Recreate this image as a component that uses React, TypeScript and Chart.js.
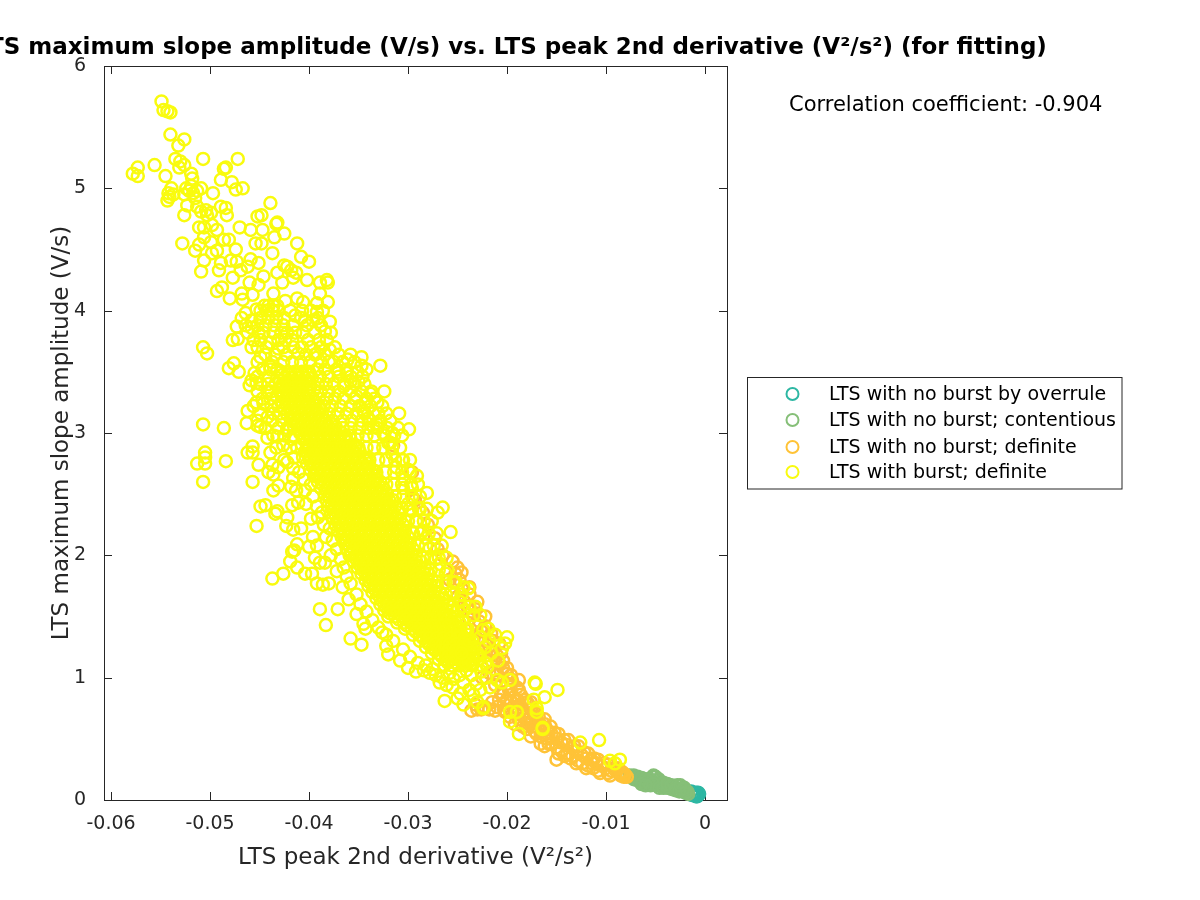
import React, { useEffect, useRef } from "react";
import { Chart, registerables } from "chart.js";

Chart.register(...registerables);

const titleText = "LTS maximum slope amplitude (V/s) vs. LTS peak 2nd derivative (V²/s²) (for fitting)";
const xAxisLabel = "LTS peak 2nd derivative (V²/s²)";
const yAxisLabel = "LTS maximum slope amplitude (V/s)";
const correlationText = "Correlation coefficient: -0.904";
const xTicks = [-0.06, -0.05, -0.04, -0.03, -0.02, -0.01, 0];
const yTicks = [0, 1, 2, 3, 4, 5, 6];
const seriesNames = [
  "LTS with no burst by overrule",
  "LTS with no burst; contentious",
  "LTS with no burst; definite",
  "LTS with burst; definite",
];
const seriesColors = ["#2DB7A3", "#86BF78", "#FFC337", "#F9FB0E"];

type P = number[];

const overrulePts: P[] = [[-.0014,.07],[-.0012,.06],[-.0011,.05],[-.001,.04],[-.0009,.06],[-.0008,.05],[-.0008,.03],[-.0007,.04],[-.0007,.06],[-.0006,.05],[-.0013,.04],[-.0009,.03]];

const contentiousPts: P[] = [[-.0076,.2],[-.0074,.19],[-.0072,.17],[-.007,.18],[-.0068,.16],[-.0066,.17],[-.0064,.15],[-.0062,.16],[-.006,.14],[-.0058,.15],[-.0056,.13],[-.0054,.16],[-.0053,.19],[-.0052,.2],[-.005,.19],[-.0051,.14],[-.0049,.16],[-.0048,.12],[-.0047,.17],[-.0045,.13],[-.0043,.11],[-.0042,.14],[-.004,.12],[-.0038,.1],[-.0036,.12],[-.0034,.09],[-.0032,.11],[-.003,.1],[-.0028,.12],[-.0027,.08],[-.0026,.11],[-.0024,.09],[-.0022,.07],[-.0021,.1],[-.002,.08],[-.0019,.06],[-.0018,.07],[-.0017,.05],[-.0072,.2],[-.0068,.19],[-.0064,.18],[-.006,.17],[-.0056,.17],[-.0055,.12],[-.0052,.13],[-.0046,.1],[-.0042,.1],[-.0038,.13],[-.0034,.12],[-.003,.08],[-.0026,.07],[-.0022,.09],[-.002,.06],[-.0025,.12],[-.0064,.13],[-.006,.12]];

const noBurstPts: P[] = [[-.0315,2.9],[-.0296,2.68],[-.0293,2.45],[-.0295,2.47],[-.0273,2.14],[-.028,2.25],[-.0285,2.35],[-.027,2.05],[-.0265,2],[-.0255,1.95],[-.025,1.9],[-.0252,1.85],[-.0248,1.8],[-.0258,1.8],[-.0245,1.72],[-.025,1.66],[-.025,1.66],[-.0243,1.62],[-.024,1.58],[-.0236,1.54],[-.0238,1.48],[-.0232,1.44],[-.0228,1.46],[-.0226,1.38],[-.023,1.32],[-.0222,1.3],[-.0218,1.26],[-.0224,1.22],[-.0214,1.22],[-.021,1.18],[-.0216,1.14],[-.0208,1.12],[-.0204,1.08],[-.0212,1.06],[-.0218,1.04],[-.0225,1],[-.02,1.03],[-.0195,.98],[-.0205,.96],[-.0212,.94],[-.019,.92],[-.0198,.9],[-.0206,.88],[-.0186,.86],[-.0193,.84],[-.02,.82],[-.0208,.82],[-.0215,.8],[-.0222,.76],[-.023,.74],[-.0236,.73],[-.018,.8],[-.0187,.78],[-.0194,.76],[-.0203,.74],[-.0212,.73],[-.0176,.74],[-.0183,.72],[-.019,.7],[-.0197,.68],[-.0172,.68],[-.018,.66],[-.0186,.63],[-.0168,.62],[-.0174,.6],[-.018,.58],[-.0165,.56],[-.017,.54],[-.0176,.52],[-.016,.58],[-.0155,.54],[-.016,.5],[-.0166,.46],[-.015,.5],[-.0155,.46],[-.0145,.47],[-.015,.43],[-.014,.45],[-.0145,.4],[-.0135,.43],[-.0139,.38],[-.015,.33],[-.013,.4],[-.0134,.36],[-.0128,.32],[-.0125,.37],[-.012,.34],[-.0124,.3],[-.0115,.33],[-.0118,.28],[-.011,.3],[-.0113,.26],[-.0105,.28],[-.0108,.24],[-.01,.26],[-.0095,.24],[-.0098,.22],[-.009,.24],[-.0087,.22],[-.0085,.2],[-.0083,.22],[-.0083,.2],[-.0081,.21],[-.0079,.19],[-.0082,.19],[-.0084,.23],[-.0092,.26],[-.0102,.3],[-.0112,.34],[-.0122,.39],[-.0132,.44],[-.0142,.49],[-.0152,.55],[-.0162,.62],[-.017,.7],[-.0178,.78],[-.0188,.9],[-.0196,1.02],[-.0204,1.14],[-.0214,1.3],[-.0222,1.42],[-.0232,1.56],[-.0238,1.68],[-.0246,1.86],[-.0232,.78],[-.0226,.74],[-.0218,.74],[-.021,.76],[-.0202,.72],[-.0196,.72],[-.0188,.66],[-.0192,.62],[-.0184,.6],[-.0178,.62],[-.0172,.56],[-.0166,.52],[-.0158,.46],[-.0162,.44],[-.0148,.38],[-.0142,.36],[-.0136,.34],[-.013,.3],[-.012,.26],[-.0114,.3],[-.0106,.22],[-.0096,.2],[-.0196,.9],[-.019,.82],[-.0182,.82],[-.0176,.8],[-.0188,.98],[-.02,1.08],[-.0206,1.2],[-.0208,1.28],[-.0216,1.36],[-.0222,1.5],[-.023,1.62],[-.0238,1.74],[-.0172,.72],[-.0168,.68],[-.0162,.66],[-.0156,.6],[-.0148,.54],[-.0138,.49],[-.0128,.44],[-.0118,.38],[-.0108,.33],[-.0098,.29],[-.0088,.26],[-.021,1.02],[-.02,.95],[-.0204,.86],[-.0196,.8],[-.019,.75],[-.0184,.7],[-.0176,.68],[-.017,.64],[-.0164,.6],[-.0158,.52]];

const burstTop: P[] = [[-.0549,5.71],[-.0547,5.64],[-.0543,5.63],[-.054,5.62],[-.054,5.44],[-.0526,5.4],[-.0532,5.35],[-.0507,5.24],[-.0472,5.24],[-.0535,5.24],[-.053,5.22],[-.0526,5.19],[-.0531,5.17],[-.0556,5.19],[-.0573,5.17],[-.0578,5.12],[-.0573,5.1],[-.0545,5.1],[-.0484,5.17],[-.0486,5.16],[-.0489,5.07],[-.0478,5.05],[-.0474,4.99],[-.0467,5],[-.0497,4.96],[-.0519,5.12],[-.0518,5.08],[-.0524,5],[-.0521,4.98],[-.0519,5.02],[-.0517,4.96],[-.0526,4.95],[-.0515,4.92],[-.0513,4.98],[-.0509,5],[-.0539,5],[-.0541,4.93],[-.0543,4.9],[-.0537,4.95],[-.0542,4.96],[-.0526,4.78],[-.0523,4.86],[-.0513,4.85],[-.0509,4.81],[-.0504,4.82],[-.0503,4.78],[-.0499,4.8],[-.0489,4.85],[-.0484,4.84],[-.0483,4.78],[-.0439,4.88],[-.0452,4.77],[-.0448,4.78],[-.0432,4.72],[-.0433,4.71],[-.047,4.68],[-.0459,4.66],[-.0447,4.66],[-.0528,4.55],[-.0511,4.54],[-.0515,4.49],[-.0506,4.68],[-.0511,4.68],[-.0506,4.6],[-.0493,4.66],[-.0498,4.7],[-.0412,4.55],[-.0425,4.63],[-.0435,4.6],[-.0454,4.55],[-.0448,4.55],[-.0437,4.47],[-.0408,4.44],[-.04,4.4],[-.0481,4.58],[-.0486,4.58],[-.0474,4.5],[-.0509,4.32],[-.0498,4.47],[-.0493,4.49],[-.0506,4.41],[-.0491,4.33],[-.0489,4.39],[-.0473,4.4],[-.0469,4.33],[-.0459,4.42],[-.0451,4.39],[-.0425,4.37],[-.0418,4.33],[-.0413,4.31],[-.0402,4.25],[-.0382,4.25],[-.0446,4.28],[-.0427,4.23],[-.0416,4.27],[-.0381,4.23],[-.0389,4.23],[-.0493,4.16],[-.0488,4.19],[-.048,4.1],[-.0477,4.27],[-.046,4.23],[-.0468,4.14],[-.0467,4.09],[-.0451,4.21],[-.0457,4.13],[-.0436,4.14],[-.0424,4.08],[-.0412,4.1],[-.0406,4.07],[-.0389,4.14],[-.0381,4.07],[-.0392,4.06],[-.0422,4.36],[-.0432,4.31],[-.0462,4.36],[-.0479,4.41],[-.0499,4.56]];

const burstUpperEdge: P[] = [[-.0464,3.98],[-.0453,4.01],[-.0458,3.92],[-.0414,3.96],[-.0404,3.92],[-.0396,3.92],[-.0379,3.91],[-.0384,3.83],[-.0392,3.99],[-.0473,3.87],[-.0477,3.76],[-.0472,3.77],[-.0458,3.86],[-.0451,3.82],[-.0439,3.74],[-.0458,3.7],[-.0431,3.69],[-.0449,3.62],[-.0422,3.82],[-.0411,3.65],[-.0379,3.68],[-.0392,3.65],[-.0507,3.7],[-.0503,3.65],[-.0476,3.57],[-.0481,3.53],[-.0471,3.5],[-.0458,3.43],[-.0453,3.41],[-.046,3.39],[-.0455,3.49],[-.0442,3.34],[-.0439,3.54],[-.0462,3.18],[-.0463,3.08],[-.0452,3.06],[-.0453,3.25],[-.0446,3.24],[-.0442,3.13],[-.0449,3.05],[-.0432,2.97],[-.0442,2.96],[-.0507,3.07],[-.0486,3.04],[-.0505,2.84],[-.0505,2.8],[-.0513,2.75],[-.0505,2.75],[-.0484,2.77],[-.0507,2.6],[-.0457,2.6],[-.0457,2.89],[-.0462,2.84],[-.0457,2.84],[-.0439,2.84],[-.0451,2.74],[-.0437,2.74],[-.0431,2.72],[-.0441,2.68],[-.0436,2.66],[-.0416,2.71],[-.0416,2.63],[-.0418,2.56],[-.0431,2.57],[-.0436,2.53],[-.0404,2.53],[-.0413,2.53],[-.0444,2.41],[-.0449,2.4],[-.0417,2.41],[-.0411,2.43],[-.0432,2.36],[-.0434,2.34],[-.0422,2.31],[-.0423,2.24],[-.0416,2.21],[-.0408,2.22],[-.0453,2.24],[-.0396,2.15],[-.0391,2.31],[-.0392,2.08],[-.0412,2.09],[-.0415,2.04],[-.0417,2.03],[-.04,2.07],[-.0419,1.95],[-.0394,1.98],[-.0389,1.94],[-.0384,1.94],[-.0412,1.9],[-.0404,1.85],[-.0397,1.85],[-.0426,1.85],[-.0437,1.81],[-.0392,1.77],[-.0386,1.76],[-.038,1.77],[-.0389,1.56],[-.0371,1.56],[-.0383,1.43],[-.0358,1.32],[-.0347,1.27],[-.032,1.19],[-.03,1.08],[-.0292,1.05],[-.0343,1.4],[-.0326,1.37],[-.0278,1.04],[-.0328,3.55],[-.0324,3.34],[-.0309,3.16],[-.0299,3.03],[-.0347,3.62],[-.0347,3.55],[-.0351,3.5],[-.0362,3.49],[-.0361,3.6],[-.0318,2.92],[-.0331,3.25],[-.033,3.16],[-.0343,3.25],[-.0281,2.51],[-.0291,2.65],[-.03,2.7],[-.0265,2.39],[-.027,2.35],[-.0257,2.19],[-.0239,1.73],[-.0244,1.74],[-.0232,1.58],[-.02,1.33],[-.0202,1.28],[-.0205,1.24],[-.0172,.96],[-.0171,.95],[-.0149,.9],[-.0162,.84],[-.0173,.82],[-.017,.75],[-.017,.72],[-.0164,.59],[-.0164,.58],[-.0188,.54],[-.0126,.47],[-.0107,.49],[-.0096,.32],[-.0091,.3],[-.0086,.33],[-.0263,.81],[-.0244,.78],[-.0197,.64],[-.019,.72],[-.0197,.72],[-.0224,.76]];

const burstLowerEnd: P[] = [[-.0224,1.39],[-.0219,1.4],[-.0227,1.33],[-.022,1.09],[-.0209,1.14],[-.0205,.96],[-.0197,.98],[-.021,.98],[-.0217,.92],[-.0227,.9],[-.0244,.96],[-.0255,.92],[-.0261,.94],[-.0247,.87],[-.023,.8],[-.0224,.75],[-.0234,1.51],[-.0227,1.51],[-.0236,1.02],[-.0241,1.06],[-.0248,1.02],[-.0254,.99],[-.0258,1.04],[-.0265,1],[-.0272,1.02],[-.0268,.96],[-.0275,1.07],[-.0282,1.1],[-.0231,.95],[-.0238,.9],[-.025,.83],[-.0234,.86],[-.0221,1],[-.0226,1.05],[-.0216,1.2],[-.0222,1.25],[-.0212,1.35],[-.0218,1.3],[-.0228,1.18],[-.0235,1.12],[-.0242,1.12],[-.0246,1.2],[-.0222,1.12],[-.024,1.4],[-.0245,1.46],[-.0238,1.3],[-.0243,1.55],[-.0248,1.62],[-.0256,1.7],[-.0252,1.78],[-.0262,1.85],[-.0268,1.93],[-.0272,1.97],[-.0278,2.06],[-.0282,2.14],[-.0285,2.2],[-.0291,2.28],[-.0288,2.38],[-.0296,2.36],[-.03,2.42],[-.0296,2.55],[-.0305,2.55],[-.0304,2.62],[-.0312,2.72],[-.0306,2.78],[-.0316,2.83],[-.032,2.92],[-.0325,3],[-.0316,3],[-.0335,3.05],[-.034,3.12],[-.0332,3.08],[-.0345,3.18],[-.0352,3.3],[-.0358,3.42],[-.0338,3.32],[-.035,3.42],[-.0365,3.38],[-.037,3.5],[-.0375,3.58]];

const burstLeftEdge: P[] = [[-.0412,2.88],[-.0418,2.95],[-.0422,3.02],[-.0426,2.9],[-.0415,2.8],[-.0422,2.76],[-.041,2.68],[-.0405,2.62],[-.0398,2.58],[-.0396,2.48],[-.0403,2.42],[-.0392,2.4],[-.0387,2.35],[-.0398,2.3],[-.0385,2.25],[-.0379,2.22],[-.0383,2.15],[-.0376,2.12],[-.0372,2.05],[-.0378,2],[-.0368,1.97],[-.0365,1.9],[-.0372,1.87],[-.0362,1.83],[-.0358,1.77],[-.0366,1.74],[-.0352,1.68],[-.036,1.64],[-.0348,1.6],[-.0342,1.54],[-.0352,1.52],[-.0336,1.47],[-.0345,1.44],[-.033,1.41],[-.0322,1.35],[-.0315,1.3],[-.0322,1.26],[-.0305,1.23],[-.0298,1.17],[-.0308,1.14],[-.029,1.12],[-.0284,1.06]];

const burstUpperMidRows: [number, number[]][] = [
  [4.04, [-.0445, -.0441, -.0436, -.0432]],
  [4.0, [-.0449, -.0443, -.0437, -.0431, -.0419, -.0407, -.0398, -.0386]],
  [3.94, [-.0468, -.0449, -.0441, -.0433, -.0425, -.0408, -.0391]],
  [3.88, [-.0464, -.0452, -.0444, -.0435, -.0426, -.0416, -.0402, -.0388]],
  [3.82, [-.0462, -.0446, -.0436, -.0428, -.0414, -.0406, -.0394, -.0378]],
  [3.76, [-.0456, -.0449, -.0431, -.0424, -.0417, -.0401, -.039, -.0382]],
  [3.7, [-.0452, -.0443, -.0426, -.0416, -.0407, -.0398, -.0388, -.0374]],
  [3.64, [-.0444, -.0434, -.0423, -.0403, -.0394, -.0384, -.037, -.0358]],
  [3.58, [-.0452, -.0437, -.0426, -.0417, -.0408, -.0399, -.0388, -.038, -.0366, -.0354]],
  [3.52, [-.0447, -.0439, -.0432, -.0392, -.0384, -.0372, -.0362, -.0342]],
  [3.46, [-.0452, -.0441, -.0389, -.038, -.037, -.0358, -.0346]],
  [3.4, [-.0449, -.0441, -.0391, -.0383, -.0375, -.0364, -.0354, -.0344]],
  [3.34, [-.0452, -.0438, -.0388, -.038, -.037, -.0358, -.0347, -.0337]],
  [3.28, [-.0447, -.0439, -.039, -.0382, -.0374, -.0365, -.0354, -.0342, -.0334]],
  [3.22, [-.0456, -.0438, -.0431, -.0385, -.0377, -.0368, -.0358, -.0349, -.0338, -.0326]],
  [3.16, [-.0449, -.0436, -.0429, -.038, -.0371, -.0362, -.0352, -.0344, -.0335, -.0322]],
  [3.1, [-.0452, -.0437, -.0427, -.0376, -.0366, -.0357, -.0347, -.0338, -.0328, -.0318]],
  [3.04, [-.0444, -.0431, -.0422, -.0366, -.0358, -.0349, -.034, -.0331, -.0321, -.031]],
  [2.98, [-.0436, -.0425, -.0416, -.0359, -.0351, -.0342, -.0334, -.0324, -.0314, -.0306]],
  [2.88, [-.0433, -.0419, -.035, -.0342, -.0334, -.0325, -.0316, -.0308]],
  [2.78, [-.0425, -.0339, -.033, -.0322, -.0313, -.0305, -.0298]],
  [2.68, [-.0332, -.0323, -.0314, -.0306, -.0298]],
  [2.58, [-.0322, -.0314, -.0306, -.0297, -.029]],
  [2.48, [-.0313, -.0305, -.0296, -.0288]],
  [2.38, [-.0306, -.0298, -.0289, -.0281]],
  [2.28, [-.03, -.0292, -.0284, -.0276]],
  [2.18, [-.0295, -.0287, -.0279, -.0271]],
  [2.08, [-.029, -.0282, -.0274, -.0266]],
  [1.98, [-.0285, -.0277, -.0269, -.0261]],
  [1.88, [-.0277, -.0269, -.026]],
  [1.78, [-.0271, -.0262, -.0254]],
  [1.68, [-.0262, -.0254, -.0246]],
  [1.58, [-.0255, -.0246, -.0238]],
];

const burstCoreRows: [number, number[]][] = [
  [3.5, [-.0428, -.0421, -.0414, -.0407, -.04]],
  [3.45, [-.0432, -.0425, -.0418, -.0411, -.0404, -.0397]],
  [3.4, [-.0434, -.0427, -.042, -.0413, -.0406, -.0399]],
  [3.35, [-.043, -.0423, -.0416, -.0409, -.0402, -.0395]],
  [3.3, [-.0433, -.0426, -.0419, -.0412, -.0405, -.0398]],
  [3.25, [-.0428, -.0421, -.0414, -.0407, -.04, -.0393]],
  [3.2, [-.0425, -.0418, -.0411, -.0404, -.0397, -.039]],
  [3.15, [-.0422, -.0415, -.0408, -.0401, -.0394, -.0387]],
  [3.1, [-.0418, -.0411, -.0404, -.0397, -.039, -.0383]],
  [3.05, [-.0415, -.0408, -.0401, -.0394, -.0387, -.038, -.0373]],
  [3, [-.0409, -.0402, -.0395, -.0388, -.0381, -.0374, -.0367]],
  [2.95, [-.0406, -.0399, -.0392, -.0385, -.0378, -.0371, -.0364, -.0358]],
  [2.9, [-.0407, -.04, -.0393, -.0386, -.0379, -.0372, -.0365, -.0358, -.0353]],
  [2.85, [-.0404, -.0397, -.039, -.0383, -.0376, -.0369, -.0362, -.0355, -.0349]],
  [2.8, [-.0406, -.0399, -.0392, -.0385, -.0378, -.0371, -.0364, -.0357, -.035, -.0343]],
  [2.75, [-.0402, -.0395, -.0388, -.0381, -.0374, -.0367, -.036, -.0353, -.0346, -.034]],
  [2.7, [-.0399, -.0392, -.0385, -.0378, -.0371, -.0364, -.0357, -.035, -.0343, -.0336]],
  [2.65, [-.0395, -.0388, -.0381, -.0374, -.0367, -.036, -.0353, -.0346, -.0339, -.0332]],
  [2.6, [-.0391, -.0384, -.0377, -.037, -.0363, -.0356, -.0349, -.0342, -.0335, -.0328]],
  [2.55, [-.0388, -.0381, -.0374, -.0367, -.036, -.0353, -.0346, -.0339, -.0332, -.0325]],
  [2.5, [-.0384, -.0377, -.037, -.0363, -.0356, -.0349, -.0342, -.0335, -.0328, -.0321]],
  [2.45, [-.0382, -.0375, -.0368, -.0361, -.0354, -.0347, -.034, -.0333, -.0326, -.0319, -.0315]],
  [2.4, [-.0381, -.0374, -.0367, -.036, -.0353, -.0346, -.0339, -.0332, -.0325, -.0318, -.0313]],
  [2.35, [-.0378, -.0371, -.0364, -.0357, -.035, -.0343, -.0336, -.0329, -.0322, -.0315, -.031]],
  [2.3, [-.0376, -.0369, -.0362, -.0355, -.0348, -.0341, -.0334, -.0327, -.032, -.0313, -.0308]],
  [2.25, [-.0373, -.0366, -.0359, -.0352, -.0345, -.0338, -.0331, -.0324, -.0317, -.031, -.0305]],
  [2.2, [-.0371, -.0364, -.0357, -.035, -.0343, -.0336, -.0329, -.0322, -.0315, -.0308, -.0303]],
  [2.15, [-.0367, -.036, -.0353, -.0346, -.0339, -.0332, -.0325, -.0318, -.0311, -.0304, -.03]],
  [2.1, [-.0364, -.0357, -.035, -.0343, -.0336, -.0329, -.0322, -.0315, -.0308, -.0301, -.0298]],
  [2.05, [-.0362, -.0355, -.0348, -.0341, -.0334, -.0327, -.032, -.0313, -.0306, -.0299, -.0295]],
  [2, [-.0359, -.0352, -.0345, -.0338, -.0331, -.0324, -.0317, -.031, -.0303, -.0296, -.0292]],
  [1.95, [-.0355, -.0348, -.0341, -.0334, -.0327, -.032, -.0313, -.0306, -.0299, -.0292, -.0287]],
  [1.9, [-.0351, -.0344, -.0337, -.033, -.0323, -.0316, -.0309, -.0302, -.0295, -.0288, -.0283]],
  [1.85, [-.0347, -.034, -.0333, -.0326, -.0319, -.0312, -.0305, -.0298, -.0291, -.0284, -.0279]],
  [1.8, [-.0343, -.0336, -.0329, -.0322, -.0315, -.0308, -.0301, -.0294, -.0287, -.028, -.0276]],
  [1.75, [-.034, -.0333, -.0326, -.0319, -.0312, -.0305, -.0298, -.0291, -.0284, -.0277, -.0271]],
  [1.7, [-.0336, -.0329, -.0322, -.0315, -.0308, -.0301, -.0294, -.0287, -.028, -.0273, -.0268]],
  [1.65, [-.0332, -.0325, -.0318, -.0311, -.0304, -.0297, -.029, -.0283, -.0276, -.0269, -.0264]],
  [1.6, [-.0328, -.0321, -.0314, -.0307, -.03, -.0293, -.0286, -.0279, -.0272, -.0265, -.026]],
  [1.55, [-.0324, -.0317, -.031, -.0303, -.0296, -.0289, -.0282, -.0275, -.0268, -.0261, -.0255]],
  [1.5, [-.032, -.0313, -.0306, -.0299, -.0292, -.0285, -.0278, -.0271, -.0264, -.0257, -.025]],
  [1.45, [-.0311, -.0304, -.0297, -.029, -.0283, -.0276, -.0269, -.0262, -.0255, -.0248]],
  [1.4, [-.0303, -.0296, -.0289, -.0282, -.0275, -.0268, -.0261, -.0254, -.0247, -.0242]],
  [1.35, [-.0295, -.0288, -.0281, -.0274, -.0267, -.026, -.0253, -.0246, -.024]],
  [1.3, [-.0288, -.0281, -.0274, -.0267, -.026, -.0253, -.0246, -.0239, -.0235]],
  [1.25, [-.0282, -.0275, -.0268, -.0261, -.0254, -.0247, -.024, -.0233]],
  [1.2, [-.0276, -.0269, -.0262, -.0255, -.0248, -.0241, -.0234, -.023]],
  [1.15, [-.0269, -.0262, -.0255, -.0248, -.0241, -.0234, -.0228]],
  [1.1, [-.0263, -.0256, -.0249, -.0242, -.0235, -.0226]],
];

const burstCoreInnerRows: [number, number[]][] = [
  [3.475, [-.0427, -.042, -.0413, -.0406, -.0399]],
  [3.425, [-.0429, -.0422, -.0415, -.0408, -.0401]],
  [3.375, [-.0428, -.0421, -.0414, -.0407, -.04]],
  [3.325, [-.0428, -.0421, -.0414, -.0407, -.04]],
  [3.275, [-.0424, -.0417, -.041, -.0403, -.0396]],
  [3.225, [-.0422, -.0415, -.0408, -.0401, -.0394]],
  [3.175, [-.0419, -.0412, -.0405, -.0398, -.0391]],
  [3.125, [-.0416, -.0409, -.0402, -.0395, -.0388]],
  [3.075, [-.0413, -.0406, -.0399, -.0392, -.0385, -.0378]],
  [3.025, [-.0409, -.0402, -.0395, -.0388, -.0381, -.0374]],
  [2.975, [-.0405, -.0398, -.0391, -.0384, -.0377, -.037, -.0363]],
  [2.925, [-.0403, -.0396, -.0389, -.0382, -.0375, -.0368, -.0361]],
  [2.875, [-.0402, -.0395, -.0388, -.0381, -.0374, -.0367, -.036, -.0353]],
  [2.825, [-.0401, -.0394, -.0387, -.038, -.0373, -.0366, -.0359, -.0352]],
  [2.775, [-.0399, -.0392, -.0385, -.0378, -.0371, -.0364, -.0357, -.035, -.0343]],
  [2.725, [-.0396, -.0389, -.0382, -.0375, -.0368, -.0361, -.0354, -.0347, -.034]],
  [2.675, [-.0393, -.0386, -.0379, -.0372, -.0365, -.0358, -.0351, -.0344, -.0337]],
  [2.625, [-.0389, -.0382, -.0375, -.0368, -.0361, -.0354, -.0347, -.034, -.0333]],
  [2.575, [-.0386, -.0379, -.0372, -.0365, -.0358, -.0351, -.0344, -.0337, -.033]],
  [2.525, [-.0382, -.0375, -.0368, -.0361, -.0354, -.0347, -.034, -.0333, -.0326]],
  [2.475, [-.0379, -.0372, -.0365, -.0358, -.0351, -.0344, -.0337, -.033, -.0323]],
  [2.425, [-.0377, -.037, -.0363, -.0356, -.0349, -.0342, -.0335, -.0328, -.0321]],
  [2.375, [-.0375, -.0368, -.0361, -.0354, -.0347, -.034, -.0333, -.0326, -.0319]],
  [2.325, [-.0373, -.0366, -.0359, -.0352, -.0345, -.0338, -.0331, -.0324, -.0317]],
  [2.275, [-.037, -.0363, -.0356, -.0349, -.0342, -.0335, -.0328, -.0321, -.0314]],
  [2.225, [-.0368, -.0361, -.0354, -.0347, -.034, -.0333, -.0326, -.0319, -.0312]],
  [2.175, [-.0365, -.0358, -.0351, -.0344, -.0337, -.033, -.0323, -.0316, -.0309]],
  [2.125, [-.0362, -.0355, -.0348, -.0341, -.0334, -.0327, -.032, -.0313, -.0306]],
  [2.075, [-.0359, -.0352, -.0345, -.0338, -.0331, -.0324, -.0317, -.031, -.0303]],
  [2.025, [-.0357, -.035, -.0343, -.0336, -.0329, -.0322, -.0315, -.0308, -.0301]],
  [1.975, [-.0353, -.0346, -.0339, -.0332, -.0325, -.0318, -.0311, -.0304, -.0297]],
  [1.925, [-.0349, -.0342, -.0335, -.0328, -.0321, -.0314, -.0307, -.03, -.0293]],
  [1.875, [-.0345, -.0338, -.0331, -.0324, -.0317, -.031, -.0303, -.0296, -.0289]],
  [1.825, [-.0341, -.0334, -.0327, -.032, -.0313, -.0306, -.0299, -.0292, -.0285]],
  [1.775, [-.0338, -.0331, -.0324, -.0317, -.031, -.0303, -.0296, -.0289, -.0282]],
  [1.725, [-.0334, -.0327, -.032, -.0313, -.0306, -.0299, -.0292, -.0285, -.0278]],
  [1.675, [-.033, -.0323, -.0316, -.0309, -.0302, -.0295, -.0288, -.0281, -.0274]],
  [1.625, [-.0326, -.0319, -.0312, -.0305, -.0298, -.0291, -.0284, -.0277, -.027]],
  [1.575, [-.0322, -.0315, -.0308, -.0301, -.0294, -.0287, -.028, -.0273, -.0266]],
  [1.525, [-.0318, -.0311, -.0304, -.0297, -.029, -.0283, -.0276, -.0269, -.0262]],
  [1.475, [-.0309, -.0302, -.0295, -.0288, -.0281, -.0274, -.0267, -.026, -.0253]],
  [1.425, [-.0301, -.0294, -.0287, -.028, -.0273, -.0266, -.0259, -.0252]],
  [1.375, [-.0292, -.0285, -.0278, -.0271, -.0264, -.0257, -.025]],
  [1.325, [-.0285, -.0278, -.0271, -.0264, -.0257, -.025, -.0243]],
  [1.275, [-.0279, -.0272, -.0265, -.0258, -.0251, -.0244, -.0237]],
  [1.225, [-.0273, -.0266, -.0259, -.0252, -.0245, -.0238]],
  [1.175, [-.0266, -.0259, -.0252, -.0245, -.0238]],
  [1.125, [-.026, -.0253, -.0246, -.0239]],
];

const toPoints = (pts: P[]) => pts.map(([x, y]) => ({ x, y }));
const rowsToPoints = (rows: [number, number[]][]) =>
  rows.flatMap(([y, xs]) => xs.map((x) => ({ x, y })));

const seriesData = [
  toPoints(overrulePts),
  toPoints(contentiousPts),
  toPoints(noBurstPts),
  [
    ...toPoints(burstTop),
    ...toPoints(burstUpperEdge),
    ...toPoints(burstLeftEdge),
    ...rowsToPoints(burstUpperMidRows),
    ...rowsToPoints(burstCoreRows),
    ...rowsToPoints(burstCoreInnerRows),
    ...toPoints(burstLowerEnd),
  ],
];

const FONT = '"DejaVu Sans", sans-serif';
const INK = "#262626";

const framePlugin = {
  id: "frame",
  beforeDatasetsDraw(chart: any) {
    const { ctx, chartArea: a, scales } = chart;
    ctx.save();
    ctx.strokeStyle = INK;
    ctx.lineWidth = 1;
    ctx.strokeRect(a.left + 0.5, a.top + 0.5, a.right - a.left, a.bottom - a.top);
    ctx.beginPath();
    const len = 8;
    for (const v of xTicks) {
      const x = Math.round(scales.x.getPixelForValue(v)) + 0.5;
      ctx.moveTo(x, a.bottom);
      ctx.lineTo(x, a.bottom - len);
      ctx.moveTo(x, a.top);
      ctx.lineTo(x, a.top + len);
    }
    for (const v of yTicks) {
      const y = Math.round(scales.y.getPixelForValue(v)) + 0.5;
      ctx.moveTo(a.left, y);
      ctx.lineTo(a.left + len, y);
      ctx.moveTo(a.right, y);
      ctx.lineTo(a.right - len, y);
    }
    ctx.stroke();
    ctx.restore();
  },
  afterDraw(chart: any) {
    const { ctx } = chart;
    ctx.save();
    ctx.fillStyle = "#000";
    ctx.textBaseline = "alphabetic";
    ctx.textAlign = "center";
    ctx.font = `bold 23px ${FONT}`;
    ctx.fillText(titleText, 512, 54);
    ctx.textAlign = "left";
    ctx.font = `21px ${FONT}`;
    ctx.fillText(correlationText, 789, 111);

    ctx.fillStyle = "#fff";
    ctx.fillRect(747.5, 377.5, 374.5, 111.5);
    ctx.strokeStyle = INK;
    ctx.lineWidth = 1;
    ctx.strokeRect(747.5, 377.5, 374.5, 111.5);
    const rows = [394, 420, 447, 472];
    ctx.font = `19px ${FONT}`;
    ctx.textBaseline = "middle";
    chart.data.datasets.forEach((d: any, i: number) => {
      ctx.beginPath();
      ctx.arc(792.5, rows[i], 6, 0, Math.PI * 2);
      ctx.strokeStyle = d.borderColor;
      ctx.lineWidth = 2;
      ctx.stroke();
      ctx.fillStyle = "#000";
      ctx.fillText(d.label, 829, rows[i] + 1);
    });
    ctx.restore();
  },
};

export default function App() {
  const ref = useRef<HTMLCanvasElement | null>(null);
  useEffect(() => {
    const chart = new Chart(ref.current as HTMLCanvasElement, {
      type: "scatter",
      data: {
        datasets: seriesData.map((data, i) => ({
          label: seriesNames[i],
          data,
          order: seriesData.length - i,
          borderColor: seriesColors[i],
          backgroundColor: "rgba(0,0,0,0)",
          borderWidth: 2.5,
          pointRadius: 6,
          pointHoverRadius: 6,
          showLine: false,
          clip: false as any,
        })),
      },
      options: {
        animation: false,
        responsive: false,
        layout: { padding: { top: 66, right: 473, left: 0, bottom: 0 } },
        plugins: { legend: { display: false }, title: { display: false }, tooltip: { enabled: false } },
        scales: {
          x: {
            type: "linear",
            min: -0.06071,
            max: 0.00222,
            afterFit: (s: any) => { s.height = 100; },
            afterBuildTicks: (s: any) => { s.ticks = xTicks.map((value) => ({ value })); },
            grid: { display: false },
            border: { display: false },
            ticks: {
              color: INK,
              padding: 5,
              maxRotation: 0,
              autoSkip: false,
              font: { family: FONT, size: 19 },
              callback: (v: any) => String(Number(v)),
            },
            title: { display: true, text: xAxisLabel, color: INK, padding: { top: 0, bottom: 28 }, font: { family: FONT, size: 23 } },
          },
          y: {
            type: "linear",
            min: 0,
            max: 6,
            afterFit: (s: any) => { s.width = 104; },
            afterBuildTicks: (s: any) => { s.ticks = yTicks.map((value) => ({ value })); },
            grid: { display: false },
            border: { display: false },
            ticks: {
              color: INK,
              padding: 10,
              autoSkip: false,
              font: { family: FONT, size: 19 },
              callback: (v: any) => String(Number(v)),
            },
            title: { display: true, text: yAxisLabel, color: INK, padding: { top: 48, bottom: 0 }, font: { family: FONT, size: 23 } },
          },
        },
      },
      plugins: [framePlugin],
    } as any);
    return () => chart.destroy();
  }, []);
  return (
    <canvas
      ref={ref}
      width={1200}
      height={900}
      style={{ position: "absolute", left: 0, top: 0, width: 1200, height: 900 }}
    />
  );
}
